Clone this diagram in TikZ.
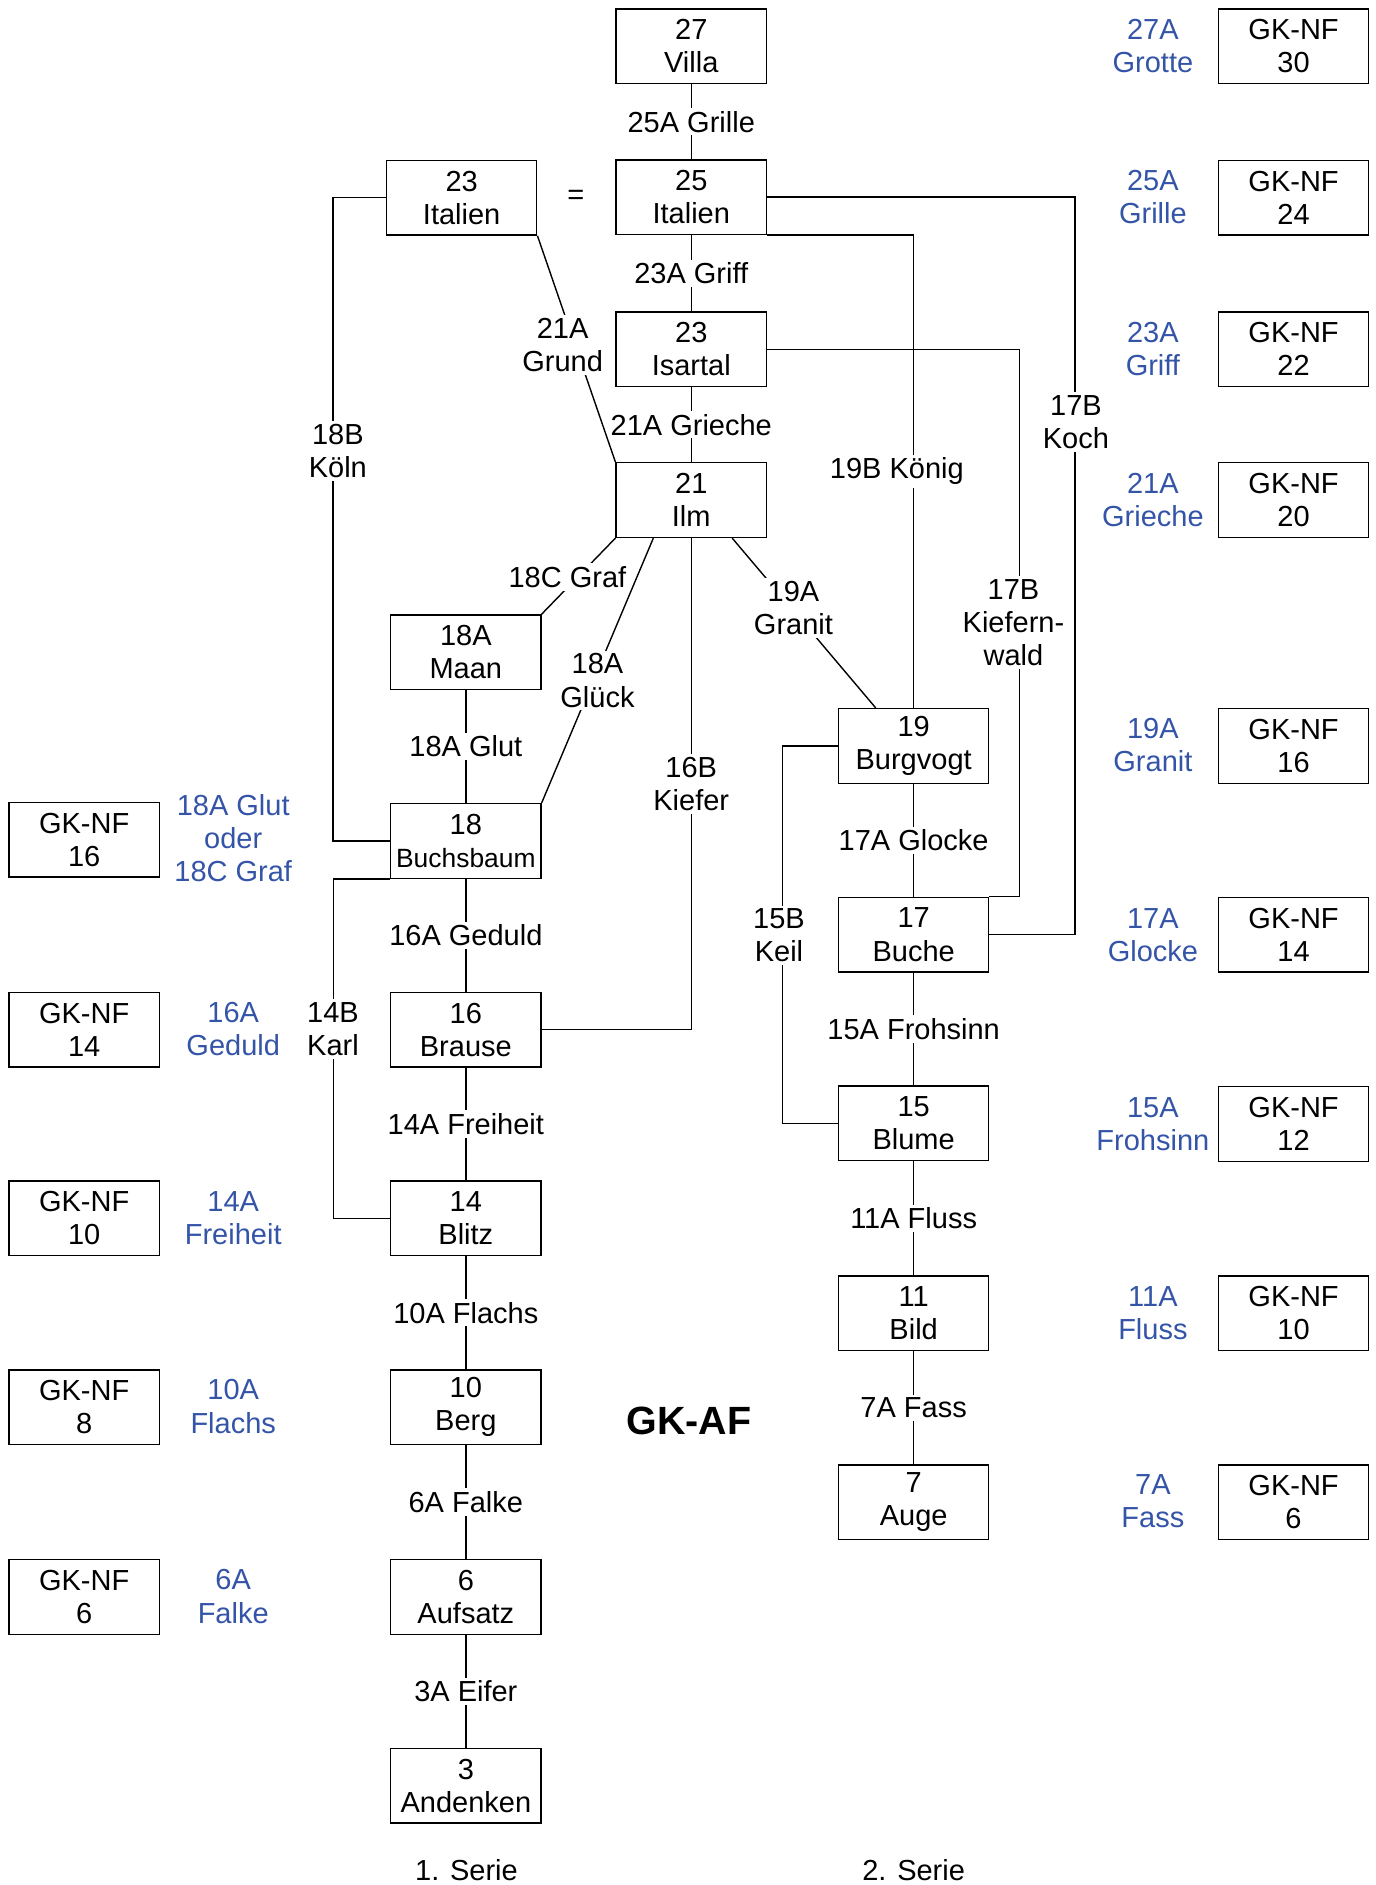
\documentclass[tikz,border=0pt]{standalone}
\usepackage{fontspec}
\setmainfont{Liberation Sans}
\usetikzlibrary{calc}
\definecolor{nfblue}{RGB}{52,84,168}
\begin{document}
\begin{tikzpicture}[x=0.601pt,y=-0.601pt,
  every node/.style={font=\fontsize{14.5}{16.6}\selectfont, align=center},
  box/.style={draw, line width=0.7pt, minimum width=75.1pt, minimum height=37.3pt, inner sep=0pt, fill=white},
  lab/.style={fill=white, inner sep=1.5pt},
  bl/.style={text=nfblue},
  conn/.style={line width=0.7pt}]
\useasboundingbox (0,0) rectangle (1144,1568);
% main boxes
\node[box] (villa) at (575,38.5) {27\\Villa};
\node[box] (it25) at (575,164) {25\\Italien};
\node[box] (it23) at (384,164.5) {23\\Italien};
\node[box] (isar) at (575,290.5) {23\\Isartal};
\node[box] (ilm) at (575,416) {21\\Ilm};
\node[box] (maan) at (387.5,542.5) {18A\\Maan};
\node[box] (burg) at (760,620.5) {19\\Burgvogt};
\node[box] (buchs) at (387.5,699.5) {18\\{\fontsize{13.2}{16.6}\selectfont Buchsbaum}};
\node[box] (buche) at (760,777.5) {17\\Buche};
\node[box] (brause) at (387.5,856.5) {16\\Brause};
\node[box] (blume) at (760,934.5) {15\\Blume};
\node[box] (blitz) at (387.5,1013.5) {14\\Blitz};
\node[box] (bild) at (760,1092.5) {11\\Bild};
\node[box] (berg) at (387.5,1170.5) {10\\Berg};
\node[box] (auge) at (760,1249.5) {7\\Auge};
\node[box] (aufs) at (387.5,1328.5) {6\\Aufsatz};
\node[box] (anden) at (387.5,1485.5) {3\\Andenken};
% left GK-NF
\node[box] (nfl16) at (70,698.5) {GK-NF\\16};
\node[box] (nfl14) at (70,856.5) {GK-NF\\14};
\node[box] (nfl10) at (70,1013.5) {GK-NF\\10};
\node[box] (nfl8) at (70,1170.5) {GK-NF\\8};
\node[box] (nfl6) at (70,1328.5) {GK-NF\\6};
% right GK-NF
\node[box] (nfr30) at (1076,38.5) {GK-NF\\30};
\node[box] (nfr24) at (1076,164.5) {GK-NF\\24};
\node[box] (nfr22) at (1076,290.5) {GK-NF\\22};
\node[box] (nfr20) at (1076,416) {GK-NF\\20};
\node[box] (nfr16) at (1076,620.5) {GK-NF\\16};
\node[box] (nfr14) at (1076,777.5) {GK-NF\\14};
\node[box] (nfr12) at (1076,935) {GK-NF\\12};
\node[box] (nfr10) at (1076,1092.5) {GK-NF\\10};
\node[box] (nfr6) at (1076,1249.5) {GK-NF\\6};
% blue labels right
\node[bl] (br27) at (959,38) {27A\\Grotte};
\node[bl] (br25) at (959,164) {25A\\Grille};
\node[bl] (br23) at (959,290) {23A\\Griff};
\node[bl] (br21) at (959,416) {21A\\Grieche};
\node[bl] (br19) at (959,620) {19A\\Granit};
\node[bl] (br17) at (959,778) {17A\\Glocke};
\node[bl] (br15) at (959,935) {15A\\Frohsinn};
\node[bl] (br11) at (959,1092) {11A\\Fluss};
\node[bl] (br7) at (959,1249) {7A\\Fass};
% blue labels left
\node[bl] (bl18) at (194,697) {18A Glut\\oder\\18C Graf};
\node[bl] (bl16) at (194,856) {16A\\Geduld};
\node[bl] (bl14) at (194,1013) {14A\\Freiheit};
\node[bl] (bl10) at (194,1170) {10A\\Flachs};
\node[bl] (bl6) at (194,1328) {6A\\Falke};
% other texts
\node (eq) at (479,164) {=};
\node[font=\fontsize{19.7}{22}\selectfont\bfseries] (title) at (573,1182) {GK-AF};
\node (s1) at (388,1556) {1. Serie};
\node (s2) at (760,1556) {2. Serie};
% vertical connectors
\draw[conn] (villa.south) -- node[lab]{25A Grille} (it25.north);
\draw[conn] (it25.south) -- node[lab]{23A Griff} (isar.north);
\draw[conn] (isar.south) -- node[lab]{21A Grieche} (ilm.north);
\draw[conn] (maan.south) -- node[lab]{18A Glut} (buchs.north);
\draw[conn] (buchs.south) -- node[lab]{16A Geduld} (brause.north);
\draw[conn] (brause.south) -- node[lab]{14A Freiheit} (blitz.north);
\draw[conn] (blitz.south) -- node[lab]{10A Flachs} (berg.north);
\draw[conn] (berg.south) -- node[lab]{6A Falke} (aufs.north);
\draw[conn] (aufs.south) -- node[lab]{3A Eifer} (anden.north);
\draw[conn] (burg.south) -- node[lab]{17A Glocke} (buche.north);
\draw[conn] (buche.south) -- node[lab]{15A Frohsinn} (blume.north);
\draw[conn] (blume.south) -- node[lab]{11A Fluss} (bild.north);
\draw[conn] (bild.south) -- node[lab]{7A Fass} (auge.north);
% other connectors
\draw[conn] (it23.south east) -- (ilm.north west);
\draw[conn] (it23.west) -- ++(-44,0) |- (buchs.west);
\draw[conn] (it25.east) -- ++(256,0) |- (buche.east);
\draw[conn] (it25.south east) -| (burg.north);
\draw[conn] (isar.east) -- ++(210,0) |- (buche.north east);
\draw[conn] (ilm.south west) -- (maan.north east);
\draw[conn] ($(ilm.south west)!0.25!(ilm.south east)$) -- (buchs.north east);
\draw[conn] (ilm.south) |- (brause.east);
\draw[conn] ($(ilm.south west)!0.77!(ilm.south east)$) -- ($(burg.north west)!0.25!(burg.north east)$);
\draw[conn] (buchs.south west) -- ++(-47,0) |- (blitz.west);
\draw[conn] (burg.west) -- ++(-46,0) |- (blume.west);
% connector labels
\node[lab] (l21g) at (468,287) {21A\\Grund};
\node[lab] (l18b) at (281,375) {18B\\Köln};
\node[lab] (l17k) at (895,351) {17B\\Koch};
\node[lab] (l19b) at (746,392) {19B König};
\node[lab] (l17w) at (843,518) {17B\\Kiefern-\\wald};
\node[lab] (l18c) at (472,480) {18C Graf};
\node[lab] (l18g) at (497,566) {18A\\Glück};
\node[lab] (l16b) at (575,652) {16B\\Kiefer};
\node[lab] (l19a) at (660,506) {19A\\Granit};
\node[lab] (l14b) at (277,856) {14B\\Karl};
\node[lab] (l15b) at (648,778) {15B\\Keil};
\end{tikzpicture}
\end{document}
